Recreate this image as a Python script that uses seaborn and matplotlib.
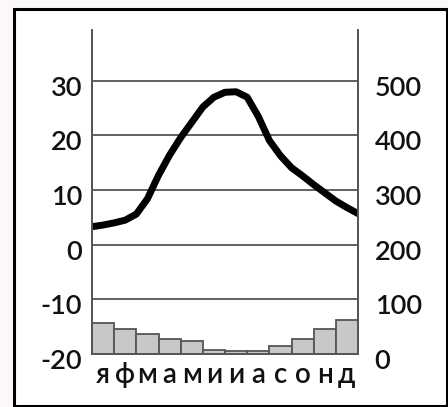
import numpy as np
import matplotlib
matplotlib.use("Agg")
import matplotlib.pyplot as plt
import matplotlib.transforms as mtransforms
from matplotlib.patches import Rectangle
import seaborn as sns

# months (Russian initials) and monthly precipitation, mm
months = ["я", "ф", "м", "а", "м", "и", "и", "а", "с", "о", "н", "д"]
precip = [56, 45, 37, 28, 23, 7, 6, 6, 15, 28, 45, 63]

# temperature curve read every half month (from start of Jan to end of Dec), °C
temp = [3.3, 3.6, 4.0, 4.5, 5.6, 8.4, 12.7, 16.4, 19.6, 22.4, 25.2, 27.0, 27.9,
        28.0, 27.0, 23.5, 19.1, 16.3, 14.1, 12.6, 11.0, 9.5, 8.0, 6.8, 5.7]
temp_pos = np.arange(len(temp)) / 2 - 0.5

temp_ticks = [-20, -10, 0, 10, 20, 30]
precip_ticks = [0, 100, 200, 300, 400, 500]

sns.set_style("white")
plt.rcParams["font.family"] = ["Lato", "DejaVu Sans"]
plt.rcParams["font.weight"] = "semibold"

fig = plt.figure(figsize=(4.48, 4.07), dpi=100, facecolor="#fbf8f7")
fig.add_artist(Rectangle((14 / 448, 1 / 407), 433 / 448, 397 / 407,
                         transform=fig.transFigure, facecolor="white",
                         edgecolor="black", linewidth=2.2, zorder=-5))

ax = fig.add_axes([92 / 448, 53 / 407, 266 / 448, 324 / 407])
ax.patch.set_visible(False)
ax2 = ax.twinx()

grid_c = "#555555"

sns.barplot(x=np.arange(12), y=precip, ax=ax2, color="#c8c8c8", saturation=1,
            width=1, edgecolor=grid_c, linewidth=1.3)
sns.lineplot(x=temp_pos, y=temp, ax=ax, color="black", linewidth=5,
             sort=False, solid_joinstyle="round", solid_capstyle="round")

ax.set_ylim(-20, 39.3)
ax2.set_ylim(0, 593)
ax.set_xlim(-0.5, 11.5)

ax.set_yticks(temp_ticks, [str(t) for t in temp_ticks])
ax2.set_yticks(precip_ticks, [str(p) for p in precip_ticks])
ax.set_xticks(range(12), months)
ax.set_xlabel("")
ax.set_ylabel("")
ax2.set_ylabel("")

for a in (ax, ax2):
    a.tick_params(length=0, labelsize=19.5, colors="#111111")
    a.spines["top"].set_visible(False)
    for s in ("left", "right", "bottom"):
        a.spines[s].set_color(grid_c)
        a.spines[s].set_linewidth(1.3)
ax.tick_params(axis="y", pad=7)
ax.tick_params(axis="x", pad=6, labelsize=20)
ax2.tick_params(axis="y", pad=12)

for t in temp_ticks:
    ax.axhline(t, color=grid_c, linewidth=1.3, zorder=0)

off = mtransforms.ScaledTranslation(0, -0.05, fig.dpi_scale_trans)
for lab in ax.get_yticklabels() + ax2.get_yticklabels():
    lab.set_transform(lab.get_transform() + off)

fig.savefig("out.png", dpi=100, facecolor=fig.get_facecolor())
